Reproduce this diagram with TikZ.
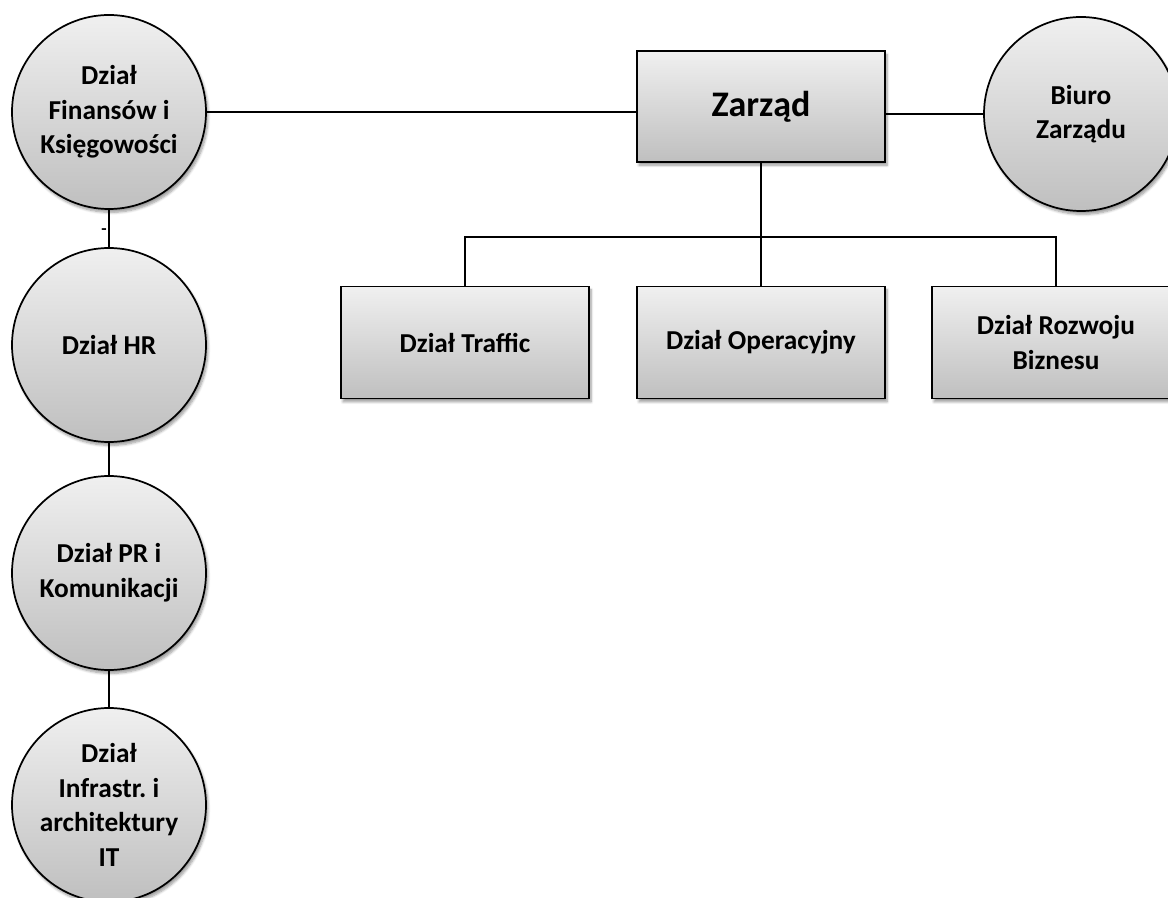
\documentclass[tikz,border=0pt]{standalone}
\usepackage{fontspec}
\setmainfont{Carlito}
\usetikzlibrary{shadows.blur}
\begin{document}
\begin{tikzpicture}[x=0.75pt,y=-0.75pt,
    unit/.style={draw,line width=1.3pt,top color=black!6,bottom color=black!25,
      blur shadow={shadow xshift=1.5pt,shadow yshift=-2.5pt,shadow blur steps=6,shadow opacity=40},
      font=\bfseries\fontsize{20.5}{26}\selectfont,align=center},
    dept/.style={unit,circle,minimum size=145.5pt,inner sep=0pt},
    unitbox/.style={unit,rectangle,minimum width=186pt,minimum height=84pt},
    link/.style={line width=1.2pt}]
  \useasboundingbox (0,0) rectangle (1168,898);
  % left column
  \node[dept] (fin) at (109,112) {Dział\\Finansów i\\Księgowości};
  \node[dept] (hr) at (109,345) {Dział HR};
  \node[dept] (pr) at (109,573) {Dział PR i\\Komunikacji};
  \node[dept] (it) at (109,805) {Dział\\Infrastr.\ i\\architektury\\IT};
  % board
  \node[unitbox,minimum height=83pt,font=\bfseries\fontsize{27}{32}\selectfont] (zarz) at (761,106.5) {Zarząd};
  \node[dept] (biuro) at (1081,114) {Biuro\\Zarządu};
  % departments
  \node[unitbox] (traf) at (465,342.5) {Dział Traffic};
  \node[unitbox] (oper) at (761,342.5) {Dział Operacyjny};
  \node[unitbox] (rozw) at (1056,342.5) {Dział Rozwoju\\Biznesu};
  \coordinate (bus) at (761,237);
  % connectors
  \draw[link] (fin.east) -- (fin.east -| zarz.west);
  \draw[link] (zarz.east |- biuro.west) -- (biuro.west);
  \draw[link] (zarz.south) -- (bus);
  \draw[link] (traf.north) |- (bus) -| (rozw.north);
  \draw[link] (bus) -- (oper.north);
  \draw[link] (fin.south) -- (hr.north);
  \draw[link] (hr.south) -- (pr.north);
  \draw[link] (pr.south) -- (it.north);
  \node[font=\bfseries\fontsize{13}{15}\selectfont] (tick) at (104,232) {-};
\end{tikzpicture}
\end{document}
